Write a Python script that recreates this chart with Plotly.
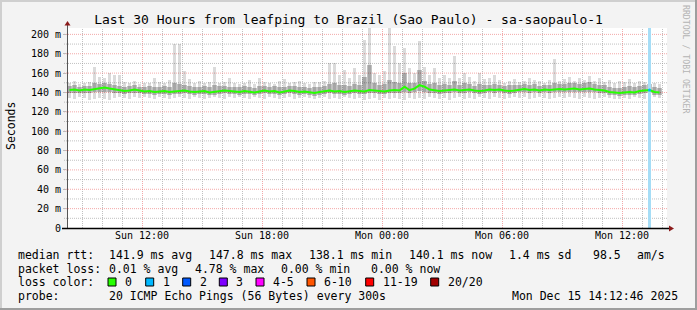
import plotly.graph_objects as go
import pandas as pd

# ---------------- data ----------------
start = "2025-12-14 08:15"          # first 15-min interval
x_range = ["2025-12-14 08:15", "2025-12-15 14:15"]
tick_vals = ["2025-12-14 12:00", "2025-12-14 18:00", "2025-12-15 00:00",
             "2025-12-15 06:00", "2025-12-15 12:00"]
tick_text = ["Sun 12:00", "Sun 18:00", "Mon 00:00", "Mon 06:00", "Mon 12:00"]
y_vals = [0, 20, 40, 60, 80, 100, 120, 140, 160, 180, 200]
y_text = ["0", "20 m", "40 m", "60 m", "80 m", "100 m", "120 m", "140 m",
          "160 m", "180 m", "200 m"]

med = [142.5, 143, 142, 143, 142.5, 143.5, 144.5, 145, 144, 143,
       142, 141.5, 142, 143, 142, 141, 141.5, 140.5, 141, 141.5,
       140.5, 141, 141.5, 142, 141, 140.5, 141, 141.5, 140, 140.5,
       141, 142, 141.5, 141, 140.5, 141.5, 141, 140, 141, 142,
       141, 141.5, 140, 141, 142, 141.5, 140.5, 141, 140, 139.5,
       140.5, 141.5, 142, 141, 141.5, 140.5, 141, 142, 141.5, 141,
       142.5, 142, 141.5, 141, 142, 142.5, 142, 146, 142.5, 144,
       147.5, 146, 143, 142, 141.5, 142, 142.5, 143, 142, 142.5,
       143, 142, 141.5, 142, 143, 142.5, 143, 142, 141.5, 142,
       143, 143.5, 142.5, 143, 142, 143, 142.5, 143, 143.5, 143,
       143.5, 144, 143, 143.5, 144, 143, 142.5, 142, 140.5, 140,
       139.5, 140, 140.5, 140, 141.5, 142, 142.5, 140.5, 140.1]

lo = [134, 133, 135, 134, 132, 133, 134, 133, 132, 134,
      135, 134, 133, 135, 134, 135, 134, 133, 135, 134,
      133, 134, 135, 134, 133, 135, 134, 133, 134, 135,
      134, 133, 135, 134, 135, 134, 133, 135, 134, 133,
      135, 134, 133, 134, 135, 133, 134, 135, 134, 133,
      134, 135, 133, 134, 133, 135, 134, 133, 134, 132,
      133, 134, 132, 134, 133, 134, 133, 132, 134, 133,
      134, 133, 135, 134, 133, 134, 132, 134, 135, 133,
      134, 133, 135, 134, 133, 135, 134, 133, 134, 135,
      134, 135, 133, 134, 135, 134, 133, 134, 135, 134,
      135, 134, 133, 135, 134, 133, 134, 135, 134, 133,
      133, 134, 133, 135, 134, 133, 134, 135, 134]

hi = [150, 152, 149, 150, 151, 166, 156, 155, 160, 158,
      158, 151, 150, 152, 149, 150, 150, 155, 151, 150,
      153, 190, 190, 162, 154, 150, 152, 150, 151, 166,
      150, 151, 155, 150, 149, 150, 153, 149, 155, 151,
      150, 149, 152, 154, 150, 151, 152, 150, 149, 151,
      151, 152, 170, 170, 158, 163, 155, 165, 158, 194,
      208, 160, 158, 162, 207, 188, 170, 186, 165, 160,
      193, 166, 158, 165, 155, 158, 155, 178, 155, 160,
      156, 152, 160, 154, 155, 158, 153, 150, 152, 154,
      151, 152, 155, 153, 152, 150, 153, 175, 152, 154,
      156, 152, 155, 153, 157, 152, 155, 151, 153, 150,
      152, 151, 154, 150, 152, 151, 153, 150, 149]

mlo = [139, 139.5, 139, 139.5, 139, 140, 141, 141, 140, 139.5,
       139, 138.5, 139, 139.5, 139, 138, 138.5, 137.5, 138, 138.5,
       137.5, 138, 138.5, 139, 138, 137.5, 138, 138.5, 137, 137.5,
       138, 139, 138.5, 138, 137.5, 138.5, 138, 137, 138, 139,
       138, 138.5, 137, 138, 139, 138.5, 137.5, 138, 137, 136.5,
       137.5, 138.5, 139, 138, 138.5, 137.5, 138, 139, 138.5, 138,
       139, 139, 138.5, 138, 139, 139.5, 139, 140, 139.5, 140.5,
       142, 141, 139.5, 139, 138.5, 139, 139.5, 140, 139, 139.5,
       140, 139, 138.5, 139, 140, 139.5, 140, 139, 138.5, 139,
       140, 140.5, 139.5, 140, 139, 140, 139.5, 140, 140.5, 140,
       140.5, 141, 140, 140.5, 141, 140, 139.5, 139, 137.5, 137,
       136.5, 137, 137.5, 137, 138.5, 139, 139.5, 137.5, 137]

mhi = [147, 148, 146, 147, 147, 150, 149, 150, 149, 148,
       147, 146, 147, 148, 146, 146, 147, 146, 146, 147,
       146, 150, 149, 148, 147, 146, 146, 147, 146, 148,
       147, 147, 146, 146, 146, 147, 146, 145, 147, 147,
       146, 147, 146, 146, 147, 147, 146, 146, 145, 146,
       146, 147, 149, 150, 148, 148, 147, 149, 148, 156,
       168, 150, 148, 149, 153, 151, 150, 160, 150, 150,
       163, 152, 149, 150, 148, 149, 148, 152, 148, 150,
       149, 147, 149, 148, 148, 149, 148, 147, 148, 148,
       148, 149, 148, 149, 147, 148, 148, 150, 149, 149,
       150, 150, 149, 150, 151, 149, 148, 148, 146, 145,
       145, 146, 147, 146, 147, 148, 149, 146, 145]

loss_idx = [116]          # interval with 1/20 lost
loss_cnt = [1]

loss_labels = ["0", "1", "2", "3", "4-5", "6-10", "11-19", "20/20"]
loss_colors = ["#26ff00", "#00b8ff", "#0059ff", "#7e00ff", "#ff00ff",
               "#ff5500", "#ff0000", "#a10000"]
loss_bg_colors = {1: "#a6ddf6"}

Y_TOP = 206.6

# ---------------- figure ----------------
W, H = 697, 310
L, R, T, B = 67, 667, 28, 228


def PX(x):
    return (x - L) / (R - L)


def PY(y):
    return (B - y) / (B - T)


n = len(med)
t0 = pd.Timestamp(start)
times = pd.date_range(start, periods=n, freq="15min") + pd.Timedelta(minutes=7.5)
step_ms = 15 * 60 * 1000

fig = go.Figure()
fig.add_bar(x=times, y=[h - l for h, l in zip(hi, lo)], base=lo, width=7 * 60 * 1000,
            marker=dict(color="rgba(0,0,0,0.14)", line_width=0), hoverinfo="skip")
fig.add_bar(x=times, y=[h - l for h, l in zip(mhi, mlo)], base=mlo, width=step_ms,
            marker=dict(color="rgba(0,0,0,0.24)", line_width=0), hoverinfo="skip")
fig.add_bar(x=[times[i] for i in loss_idx], y=[Y_TOP for _ in loss_idx],
            base=[0 for _ in loss_idx], width=9 * 60 * 1000,
            marker=dict(color=[loss_bg_colors[c] for c in loss_cnt], line_width=0),
            hoverinfo="skip")
fig.add_scatter(x=times, y=med, mode="lines",
                line=dict(color=loss_colors[0], width=2), hoverinfo="skip")
fig.add_scatter(x=[times[i] for i in loss_idx], y=[med[i] for i in loss_idx],
                mode="markers", marker=dict(color=loss_colors[1], size=3),
                hoverinfo="skip")

mono = "DejaVu Sans Mono"
RED_GRID = "rgba(235,110,110,0.6)"
GREY_GRID = "rgba(150,150,150,0.6)"

fig.update_layout(
    width=W, height=H, autosize=False,
    margin=dict(l=L, r=W - R, t=T, b=H - B),
    paper_bgcolor="#f3f3f3", plot_bgcolor="#ffffff",
    barmode="overlay", bargap=0, showlegend=False,
    font=dict(family=mono, size=10, color="#000"),
    title=dict(text="Last 30 Hours from leafping to Brazil (Sao Paulo) - sa-saopaulo-1",
               font=dict(family=mono, size=13, color="#000"),
               x=0.5, xref="container", xanchor="center",
               y=1 - 19 / H, yref="container", yanchor="middle"),
    xaxis=dict(type="date", range=x_range, tickmode="array", tickvals=tick_vals,
               ticktext=tick_text, showgrid=False, zeroline=False, showline=False,
               ticks="", tickfont=dict(family=mono, size=10)),
    yaxis=dict(range=[0, Y_TOP], tickmode="array", tickvals=y_vals, ticktext=y_text,
               showgrid=False, zeroline=False, showline=False, ticks="outside",
               ticklen=3, tickcolor="#bbbbbb", tickfont=dict(family=mono, size=10)),
)

shapes = []
# grid (hourly vertical, 10 ms horizontal; majors red)
major_times = set(pd.Timestamp(v) for v in tick_vals)
hr = pd.Timestamp("2025-12-14 09:00")
while hr < pd.Timestamp(x_range[1]):
    px = L + (hr - t0).total_seconds() / 3600 * 20 + 0.5
    shapes.append(dict(type="line", xref="paper", yref="paper", x0=PX(px), x1=PX(px),
                       y0=0, y1=1, layer="below",
                       line=dict(color=RED_GRID if hr in major_times else GREY_GRID,
                                 width=1, dash="1px,1px")))
    hr += pd.Timedelta(hours=1)
for v in range(10, 201, 10):
    shapes.append(dict(type="line", xref="paper", yref="y", x0=PX(64), x1=1, y0=v, y1=v,
                       layer="below",
                       line=dict(color=RED_GRID if v % 20 == 0 else GREY_GRID,
                                 width=1, dash="1px,1px")))
# frame
shapes.append(dict(type="rect", xref="paper", yref="paper", x0=PX(0), x1=PX(W),
                   y0=PY(0), y1=PY(2), fillcolor="#cfcfcf", line_width=0))
shapes.append(dict(type="rect", xref="paper", yref="paper", x0=PX(0), x1=PX(2),
                   y0=PY(0), y1=PY(H), fillcolor="#cfcfcf", line_width=0))
shapes.append(dict(type="rect", xref="paper", yref="paper", x0=PX(W - 2), x1=PX(W),
                   y0=PY(0), y1=PY(H), fillcolor="#9e9e9e", line_width=0))
shapes.append(dict(type="rect", xref="paper", yref="paper", x0=PX(0), x1=PX(W),
                   y0=PY(H - 2), y1=PY(H), fillcolor="#9e9e9e", line_width=0))
# axes
shapes.append(dict(type="line", xref="paper", yref="paper", x0=PX(67.5), x1=PX(67.5),
                   y0=PY(228), y1=PY(24), line=dict(color="#555555", width=1)))
shapes.append(dict(type="line", xref="paper", yref="paper", x0=PX(62), x1=PX(670),
                   y0=PY(228.5), y1=PY(228.5), line=dict(color="#000000", width=1.6)))
shapes.append(dict(type="path", xref="paper", yref="paper",
                   path=f"M {PX(64.5)},{PY(25.5)} L {PX(70.5)},{PY(25.5)} L {PX(67.5)},{PY(21)} Z",
                   fillcolor="#8b1a1a", line_width=0))
shapes.append(dict(type="path", xref="paper", yref="paper",
                   path=f"M {PX(669)},{PY(225.5)} L {PX(669)},{PY(231.5)} L {PX(674)},{PY(228.5)} Z",
                   fillcolor="#8b1a1a", line_width=0))
# loss color swatches
sw_x = [108, 145.7, 182.7, 219.3, 256, 307, 365.7, 430.7]
for sx, col in zip(sw_x, loss_colors):
    shapes.append(dict(type="rect", xref="paper", yref="paper", x0=PX(sx), x1=PX(sx + 8),
                       y0=PY(278), y1=PY(286), fillcolor=col,
                       line=dict(color="#000000", width=1)))
fig.update_layout(shapes=shapes)

anns = []


def ann(text, x, y, size=11.5, anchor="left", color="#000", angle=0):
    anns.append(dict(text=text, x=PX(x), y=PY(y), xref="paper", yref="paper",
                     xanchor=anchor, yanchor="middle", showarrow=False,
                     textangle=angle, font=dict(family=mono, size=size, color=color)))


ann("Seconds", 11, 126, size=11.5, anchor="center", angle=-90)
ann("RRDTOOL / TOBI OETIKER", 686, 59, size=8.2, anchor="center", color="#b4b4b4", angle=90)

y1, y2, y3, y4 = 255, 268.5, 282, 296
ann("median rtt:", 16, y1)
for txt, xx in [("141.9 ms avg", 107.3), ("147.8 ms max", 207.3), ("138.1 ms min", 307.3),
                ("140.1 ms now", 406.7), ("1.4 ms sd", 506.7), ("98.5", 590.7),
                ("am/s", 635)]:
    ann(txt, xx, y1)
ann("packet loss:", 16, y2)
for txt, xx in [("0.01 % avg", 107.3), ("4.78 % max", 193.3), ("0.00 % min", 279.3),
                ("0.00 % now", 369.3)]:
    ann(txt, xx, y2)
ann("loss color:", 16, y3)
for sx, lab in zip(sw_x, loss_labels):
    ann(lab, sx + 15, y3)
ann("probe:", 16, y4)
ann("20 ICMP Echo Pings (56 Bytes) every 300s", 107.3, y4)
ann("Mon Dec 15 14:12:46 2025", 680, y4, anchor="right")

fig.update_layout(annotations=anns)
fig.write_html("out.html")
